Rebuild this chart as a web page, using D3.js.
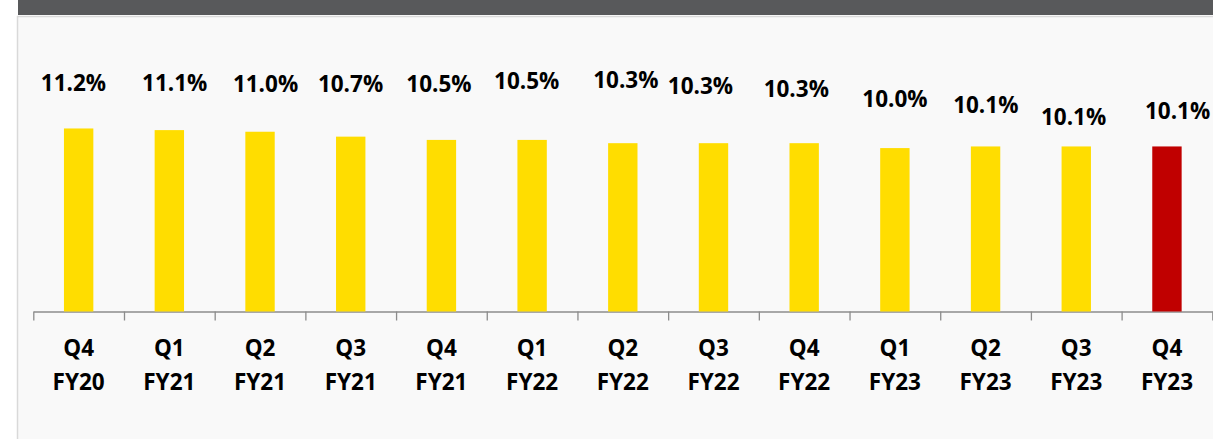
<!DOCTYPE html>
<html>
<head>
<meta charset="utf-8">
<script src="https://cdn.jsdelivr.net/npm/d3@7"></script>
<style>
  html, body { margin: 0; padding: 0; background: #ffffff; }
  svg { display: block; }
  text { font-family: "Open Sans", "Liberation Sans", sans-serif; font-weight: 700; fill: #000; }
</style>
</head>
<body>
<svg id="chart" width="1213" height="439"></svg>
<script>
// Quarter labels (two lines each)
const quarters = ["Q4", "Q1", "Q2", "Q3", "Q4", "Q1", "Q2", "Q3", "Q4", "Q1", "Q2", "Q3", "Q4"];
const fiscalYears = ["FY20", "FY21", "FY21", "FY21", "FY21", "FY22", "FY22", "FY22", "FY22", "FY23", "FY23", "FY23", "FY23"];
// Ratio per quarter, in percent
const values = [11.2, 11.1, 11.0, 10.7, 10.5, 10.5, 10.3, 10.3, 10.3, 10.0, 10.1, 10.1, 10.1];
const valueLabels = ["11.2%", "11.1%", "11.0%", "10.7%", "10.5%", "10.5%", "10.3%", "10.3%", "10.3%", "10.0%", "10.1%", "10.1%", "10.1%"];

// Hand-placed label nudges: horizontal shift from bar centre, and baseline height above bar top
const labelDx = [-5.2, 5.4, 5.5, -0.2, -2.4, -5.4, 3, -13, -7.9, 0.1, 0.2, -2.7, 10.6];
const labelGap = [37.5, 39.1, 39.5, 45, 48.2, 51.2, 54.9, 49.2, 45.9, 41.4, 33.2, 21.5, 27.2];

const categories = quarters.map((q, i) => q + " " + fiscalYears[i]);
const data = categories.map((c, i) => ({ cat: c, q: quarters[i], fy: fiscalYears[i], v: values[i], label: valueLabels[i], i }));

const svg = d3.select("#chart");

// Panel frame and header strip
svg.append("rect").attr("x", 17.5).attr("y", 16.5).attr("width", 1210).attr("height", 440)
  .attr("fill", "#f9f9f9").attr("stroke", "#d9d9d9").attr("stroke-width", 1.5);
svg.append("rect").attr("x", 18).attr("y", 0).attr("width", 1195).attr("height", 15)
  .attr("fill", "#58595b");

const x0 = 33.3, x1 = 1212.3, baseY = 311.5;

const x = d3.scaleBand().domain(categories).range([x0, x1])
  .paddingInner(0.676).paddingOuter(0.338);
const y = d3.scaleLinear().domain([0, 12]).range([baseY, 115.4]);

// Category boundary ticks
const xEdges = d3.scaleLinear().domain([0, categories.length]).range([x0, x1]);
const axis = d3.axisBottom(xEdges)
  .tickValues(d3.range(categories.length + 1))
  .tickFormat("")
  .tickSize(9)
  .tickSizeOuter(0);
const gAxis = svg.append("g").attr("transform", `translate(0,${baseY})`).call(axis);
gAxis.select(".domain").attr("stroke", "#8c8c8c").attr("stroke-width", 1.3);
gAxis.selectAll(".tick line").attr("stroke", "#8c8c8c").attr("stroke-width", 1.3);

// Bars
svg.append("g").selectAll("rect").data(data).join("rect")
  .attr("x", d => x(d.cat))
  .attr("y", d => y(d.v))
  .attr("width", x.bandwidth())
  .attr("height", d => y(0) - y(d.v))
  .attr("fill", (d, i) => i === data.length - 1 ? "#c00000" : "#ffdd00");

// Value labels
svg.append("g").selectAll("text").data(data).join("text")
  .attr("x", d => x(d.cat) + x.bandwidth() / 2 + labelDx[d.i])
  .attr("y", d => y(d.v) - labelGap[d.i])
  .attr("text-anchor", "middle")
  .attr("font-size", 22.5)
  .text(d => d.label);

// Category labels
const catText = svg.append("g").selectAll("text").data(data).join("text")
  .attr("text-anchor", "middle")
  .attr("font-size", 22.5);
catText.append("tspan")
  .attr("x", d => x(d.cat) + x.bandwidth() / 2)
  .attr("y", 356)
  .text(d => d.q);
catText.append("tspan")
  .attr("x", d => x(d.cat) + x.bandwidth() / 2)
  .attr("y", 390)
  .text(d => d.fy);
</script>
</body>
</html>
